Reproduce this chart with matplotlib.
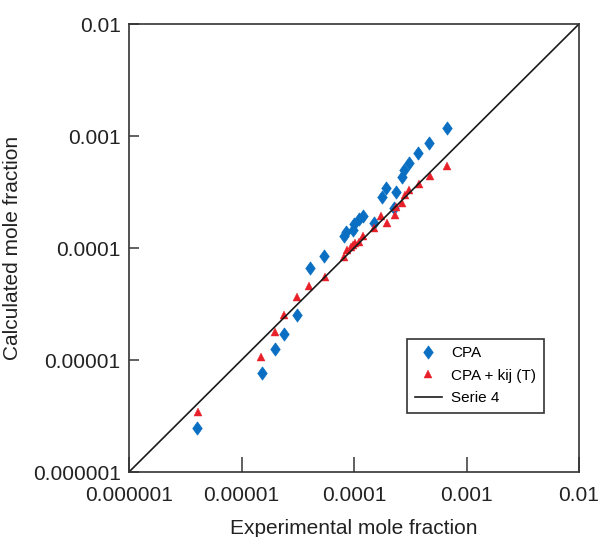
import matplotlib
matplotlib.use("Agg")
import matplotlib.pyplot as plt

plt.rcParams['font.family'] = ['Liberation Sans', 'DejaVu Sans']

# experimental vs calculated mole fractions
cpa_exp = [4.0e-6, 1.51e-5, 2.0e-5, 2.39e-5, 3.1e-5, 4.04e-5, 5.41e-5, 8.09e-5,
           8.43e-5, 9.8e-5, 1.0e-4, 1.10e-4, 1.21e-4, 1.50e-4, 1.76e-4, 1.94e-4,
           2.35e-4, 2.27e-4, 2.65e-4, 2.78e-4, 3.10e-4, 3.68e-4, 4.67e-4, 6.74e-4]
cpa_calc = [2.49e-6, 7.6e-6, 1.26e-5, 1.71e-5, 2.5e-5, 6.67e-5, 8.43e-5, 1.28e-4,
            1.38e-4, 1.45e-4, 1.63e-4, 1.80e-4, 1.92e-4, 1.67e-4, 2.87e-4, 3.41e-4,
            3.18e-4, 2.29e-4, 4.33e-4, 4.97e-4, 5.74e-4, 7.01e-4, 8.71e-4, 1.19e-3]

kij_exp = [4.08e-6, 1.49e-5, 2.0e-5, 2.40e-5, 3.13e-5, 3.95e-5, 5.52e-5, 8.15e-5,
           8.67e-5, 9.35e-5, 9.73e-5, 1.03e-4, 1.11e-4, 1.21e-4, 1.51e-4, 1.74e-4,
           1.98e-4, 2.31e-4, 2.35e-4, 2.65e-4, 2.84e-4, 3.10e-4, 3.76e-4, 4.74e-4,
           6.74e-4]
kij_calc = [3.45e-6, 1.06e-5, 1.77e-5, 2.50e-5, 3.63e-5, 4.58e-5, 5.54e-5, 8.36e-5,
            9.6e-5, 1.03e-4, 1.06e-4, 1.11e-4, 1.13e-4, 1.28e-4, 1.50e-4, 1.94e-4,
            1.66e-4, 1.97e-4, 2.34e-4, 2.51e-4, 2.97e-4, 3.30e-4, 3.71e-4, 4.40e-4,
            5.43e-4]

# y = x reference line
serie4 = [1e-6, 1e-2]

ticks = [1e-6, 1e-5, 1e-4, 1e-3, 1e-2]
tick_labels = ['0.000001', '0.00001', '0.0001', '0.001', '0.01']

# slightly narrow diamond marker
diamond = [(0, 1), (0.72, 0), (0, -1), (-0.72, 0), (0, 1)]

fig = plt.figure(figsize=(6.03, 5.37), dpi=100)
ax = fig.add_axes([129 / 603, 65 / 537, 450 / 603, 448 / 537])

ax.plot(cpa_exp, cpa_calc, linestyle='none', marker=diamond, markersize=9.5,
        markeredgewidth=0.5, color='#0a6fc2', label='CPA')
ax.plot(kij_exp, kij_calc, linestyle='none', marker='^', markersize=6,
        markeredgewidth=0.3, color='#e8202a', label='CPA + kij (T)')
ax.plot(serie4, serie4, color='#1a1a1a', linewidth=1.2, label='Serie 4')

ax.set_xscale('log')
ax.set_yscale('log')
ax.set_xlim(1e-6, 1e-2)
ax.set_ylim(1e-6, 1e-2)
ax.set_xticks(ticks, tick_labels)
ax.set_yticks(ticks, tick_labels)
ax.minorticks_off()

ax.tick_params(axis='x', direction='in', length=11, width=1.3, color='#555555',
               labelsize=15, pad=10, labelcolor='#222222')
ax.tick_params(axis='y', direction='in', length=7, width=1.3, color='#555555',
               labelsize=15, pad=6, labelcolor='#222222')
for s in ax.spines.values():
    s.set_linewidth(1.2)
    s.set_color('#333333')

ax.set_xlabel('Experimental mole fraction', fontsize=15, labelpad=10, color='#222222')
ax.set_ylabel('Calculated mole fraction', fontsize=15, labelpad=8, color='#222222')

leg = ax.legend(loc='lower right', bbox_to_anchor=(0.922, 0.132), borderaxespad=0,
                fontsize=11, numpoints=1, fancybox=False, framealpha=1,
                handlelength=1.8, handletextpad=0.6, labelspacing=0.55,
                borderpad=0.5)
leg.get_frame().set_edgecolor('#333333')
leg.get_frame().set_linewidth(1.2)

fig.savefig('out.png', dpi=100)
